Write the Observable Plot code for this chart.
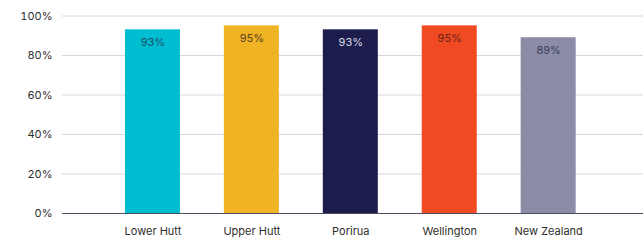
<!DOCTYPE html>
<html>
<head>
<meta charset="utf-8">
<script src="https://cdn.jsdelivr.net/npm/d3@7"></script>
<script src="https://cdn.jsdelivr.net/npm/@observablehq/plot@0.6"></script>
<style>
  html, body { margin: 0; padding: 0; background: #fff; }
  #chart svg { display: block; }
</style>
</head>
<body>
<div id="chart"></div>
<script>
const regions = ["Lower Hutt", "Upper Hutt", "Porirua", "Wellington", "New Zealand"];
const values = [93, 95, 93, 95, 89];
const colors = ["#00bdd1", "#f0b323", "#1c1d4d", "#f04a23", "#8b8da7"];
const labelColors = ["#1d4f66", "#5a4320", "#d8d8e2", "#6a2418", "#3a3d55"];
const yTicks = [0, 20, 40, 60, 80, 100];

const data = regions.map((r, i) => ({region: r, value: values[i], color: colors[i], label: values[i] + "%", lc: labelColors[i]}));

const chart = Plot.plot({
  width: 643,
  height: 241,
  marginTop: 15.5,
  marginBottom: 28,
  marginLeft: 62,
  marginRight: 0,
  style: {fontFamily: "Inter, sans-serif", fontSize: "11px", color: "#2e2e2e", background: "#fff"},
  x: {domain: regions, range: [62, 638.6], paddingInner: 0.444, paddingOuter: 0.636, round: false, label: null},
  y: {domain: [0, 100], label: null},
  marks: [
    Plot.ruleY(yTicks.filter(d => d > 0), {stroke: "#d6d6e0", strokeWidth: 1}),
    Plot.barY(data, {x: "region", y: "value", fill: "color"}),
    Plot.ruleY([0], {stroke: "#4b4c60", strokeWidth: 1.2}),
    Plot.text(data, {x: "region", y: "value", text: "label", fill: "lc", dy: 13, fontSize: 11}),
    Plot.axisY({ticks: yTicks, tickSize: 0, tickPadding: 10, tickFormat: d => d + "%", label: null, fontSize: 11}),
    Plot.axisX({tickSize: 0, tickPadding: 14, label: null, fontSize: 11})
  ]
});
document.getElementById("chart").appendChild(chart);
</script>
</body>
</html>
